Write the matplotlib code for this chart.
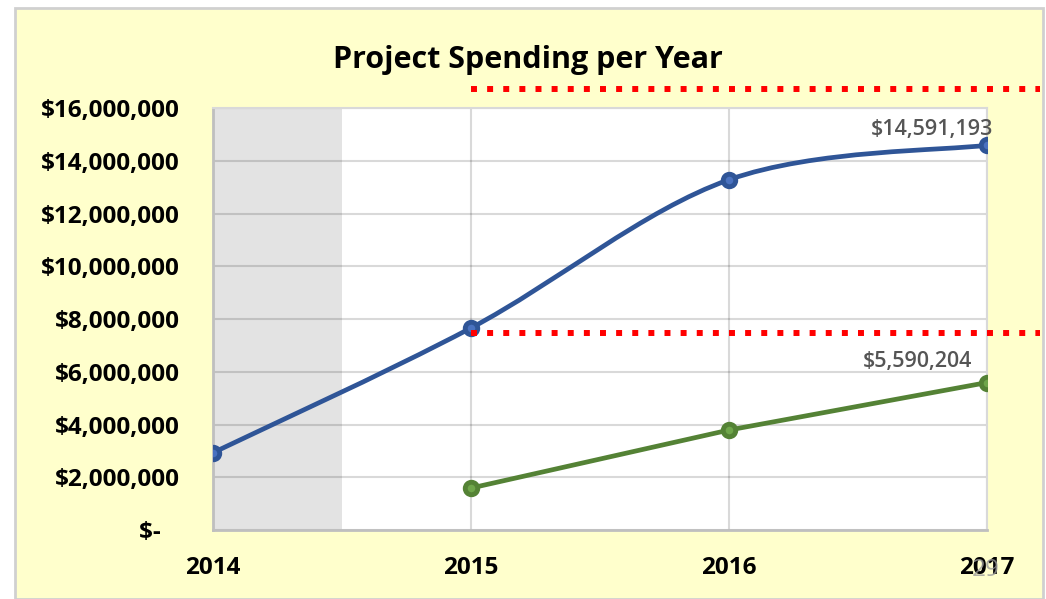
import numpy as np
import matplotlib
matplotlib.use('Agg')
import matplotlib.pyplot as plt
from matplotlib.path import Path
from matplotlib.patches import PathPatch, Rectangle
from matplotlib.ticker import FuncFormatter

years = [2014, 2015, 2016, 2017]
total = [2930000, 7660000, 13280000, 14591193]
green_years = [2015, 2016, 2017]
green = [1590000, 3790000, 5590204]
target_hi = 16720000
target_lo = 7470000
target_span = [2015, 2017.205]

plt.rcParams['font.family'] = ['Open Sans', 'DejaVu Sans']

blue = '#2F5597'
blue_in = '#4A72C0'
grn = '#548235'
grn_in = '#6FA64A'

fig = plt.figure(figsize=(10.46, 5.99), dpi=100)
fig.patch.set_facecolor('white')
fig.patches.append(Rectangle((15 / 1046, 0), 1028 / 1046, 1 - 8 / 599,
                             transform=fig.transFigure, facecolor='#FFFFCC',
                             edgecolor='#D0D0D0', lw=2, zorder=-5))

ax = fig.add_axes([213 / 1046, 1 - 530 / 599, 774 / 1046, 422 / 599])
ax.set_facecolor('white')
ax.set_xlim(2014, 2017)
ax.set_ylim(0, 16000000)
ax.set_xticks(years)
ax.set_yticks(np.arange(0, 16000001, 2000000))
ax.yaxis.set_major_formatter(FuncFormatter(lambda v, p: '$-   ' if v == 0 else '${:,.0f}'.format(v)))
ax.grid(True, color='black', alpha=0.15, lw=1.5, zorder=1)
ax.set_axisbelow(True)
ax.tick_params(length=0, labelsize=17.5, pad=24)
ax.tick_params(axis='x', pad=19)
for lab in ax.get_xticklabels() + ax.get_yticklabels():
    lab.set_fontweight('bold')
for s in ['top', 'right']:
    ax.spines[s].set_color('#D9D9D9')
    ax.spines[s].set_linewidth(1.5)
for s in ['left', 'bottom']:
    ax.spines[s].set_color('#BFBFBF')
    ax.spines[s].set_linewidth(2)

ax.axvspan(2014, 2014.5, color='#E3E3E3', zorder=0, lw=0)

# smoothed blue line (Excel-style bezier)
pts = np.column_stack([years, total]).astype(float)
verts = [tuple(pts[0])]
codes = [Path.MOVETO]
n = len(pts)
for i in range(n - 1):
    p0 = pts[max(i - 1, 0)]
    p1 = pts[i]
    p2 = pts[i + 1]
    p3 = pts[min(i + 2, n - 1)]
    verts += [tuple(p1 + (p2 - p0) / 6), tuple(p2 - (p3 - p1) / 6), tuple(p2)]
    codes += [Path.CURVE4] * 3
ax.add_patch(PathPatch(Path(verts, codes), fill=False, edgecolor=blue, lw=3.4,
                       capstyle='round', zorder=3))
ax.plot(years, total, ls='none', marker='o', ms=9, mfc=blue_in, mec=blue, mew=3.5, zorder=4)

ax.plot(green_years, green, color=grn, lw=3.4, marker='o', ms=9, mfc=grn_in, mec=grn,
        mew=3.5, zorder=4, solid_capstyle='round')

ax.plot(target_span, [target_hi] * 2, color='red', lw=4.3, ls=(0, (1, 1.7)),
        clip_on=False, zorder=5)
ax.plot(target_span, [target_lo] * 2, color='red', lw=4.3, ls=(0, (1, 1.7)),
        clip_on=False, zorder=5)

ax.annotate('${:,.0f}'.format(total[-1]), (years[-1], total[-1]), xytext=(4.5, 11),
            textcoords='offset points', ha='right', va='center', fontsize=15.5,
            fontweight='semibold', color='#555555')
ax.annotate('${:,.0f}'.format(green[-1]), (green_years[-1], green[-1]), xytext=(-10.5, 15),
            textcoords='offset points', ha='right', va='center', fontsize=15.5,
            fontweight='semibold', color='#555555')

fig.text(528 / 1046, 1 - 60 / 599, 'Project Spending per Year', ha='center', va='center',
         fontsize=22, fontweight='bold')
fig.text(986 / 1046, 1 - 570 / 599, '29', ha='center', va='center', fontsize=17.5,
         color='#9A9A9A', alpha=0.8)

fig.savefig('out.png', dpi=100, facecolor=fig.get_facecolor())
